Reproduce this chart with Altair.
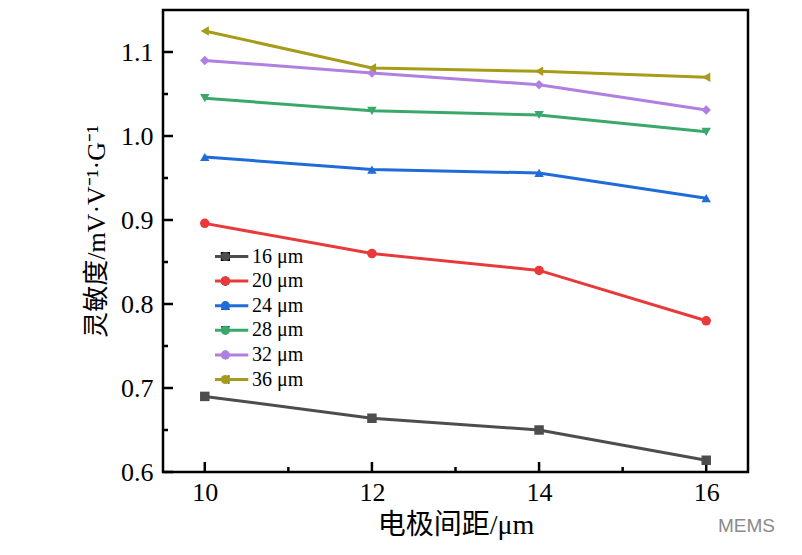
import altair as alt
import pandas as pd

spacing = [10, 12, 14, 16]
series_names = ["16 μm", "20 μm", "24 μm", "28 μm", "32 μm", "36 μm"]
s16 = [0.690, 0.664, 0.650, 0.614]
s20 = [0.896, 0.860, 0.840, 0.780]
s24 = [0.975, 0.960, 0.956, 0.926]
s28 = [1.045, 1.030, 1.025, 1.005]
s32 = [1.090, 1.075, 1.061, 1.031]
s36 = [1.125, 1.081, 1.077, 1.070]
colors = ["#4d4d4d", "#e8393b", "#1f6cd8", "#3aa86a", "#b07fe0", "#a69c1a"]
shapes = ["square", "circle", "triangle-up", "triangle-down", "diamond", "triangle-left"]

y_major = [0.6, 0.7, 0.8, 0.9, 1.0, 1.1]
y_minor = [0.65, 0.75, 0.85, 0.95, 1.05]
x_major = [10, 12, 14, 16]
x_minor = [11, 13, 15]

rows = []
for name, vals in zip(series_names, [s16, s20, s24, s28, s32, s36]):
    for x, v in zip(spacing, vals):
        rows.append({"spacing": x, "sens": v, "series": name, "series_pt": name})
df = pd.DataFrame(rows)

W, H = 585, 462
FONT = "Liberation Serif, Noto Sans CJK SC"

xscale = alt.Scale(domain=[9.5, 16.5], nice=False, zero=False)
yscale = alt.Scale(domain=[0.6, 1.15], nice=False, zero=False)

x_axis = alt.Axis(values=x_major, title="电极间距/μm", labelPadding=7, titlePadding=6,
                  titleFontSize=28)
y_axis = alt.Axis(values=y_major, format=".1f", title="灵敏度/mV·V⁻¹·G⁻¹",
                  labelPadding=10, titlePadding=11, titleY=221)

def xe(field="spacing"):
    return alt.X(f"{field}:Q", scale=xscale, axis=x_axis)

def ye(field="sens"):
    return alt.Y(f"{field}:Q", scale=yscale, axis=y_axis)

color_scale = alt.Scale(domain=series_names, range=colors)
shape_scale = alt.Scale(domain=series_names, range=shapes)

common_leg = dict(orient="none", padding=0, labelFont=FONT, labelFontSize=20,
                  labelColor="black", rowPadding=3.6, clipHeight=19, title=None, legendY=237)

line_leg = alt.Legend(symbolType="M-4.66,0H4.66", symbolSize=100, symbolStrokeWidth=3,
                      legendX=52, labelOffset=17, **common_leg)
pt_leg = alt.Legend(symbolSize=85, symbolStrokeWidth=0, legendX=52.4,
                    labelExpr="''", **common_leg)

lines = alt.Chart(df).mark_line(strokeWidth=3).encode(
    x=xe(), y=ye(),
    color=alt.Color("series:N", scale=color_scale, legend=line_leg),
)
points = alt.Chart(df).mark_point(filled=True, size=90, opacity=1).encode(
    x=xe(), y=ye(),
    color=alt.Color("series_pt:N", scale=color_scale, legend=pt_leg),
    shape=alt.Shape("series_pt:N", scale=shape_scale, legend=pt_leg),
)

ymaj = alt.Chart(pd.DataFrame({"sens": y_major})).mark_rule(color="black", strokeWidth=2.5).encode(
    y=ye(), x=alt.value(0), x2=alt.value(10))
ymin = alt.Chart(pd.DataFrame({"sens": y_minor})).mark_rule(color="black", strokeWidth=2.5).encode(
    y=ye(), x=alt.value(0), x2=alt.value(5))
xmaj = alt.Chart(pd.DataFrame({"spacing": x_major})).mark_rule(color="black", strokeWidth=2.5).encode(
    x=xe(), y=alt.value(H), y2=alt.value(H - 10))
xmin = alt.Chart(pd.DataFrame({"spacing": x_minor})).mark_rule(color="black", strokeWidth=2.5).encode(
    x=xe(), y=alt.value(H), y2=alt.value(H - 5))

chart = alt.layer(ymaj, ymin, xmaj, xmin, lines, points).resolve_scale(
    color="independent"
).properties(
    width=W, height=H,
    autosize=alt.AutoSizeParams(type="none"),
    padding={"left": 155, "top": 2, "right": 46, "bottom": 75},
    title=alt.TitleParams("MEMS", orient="bottom", anchor="end", frame="group",
                          color="#8a8a8a", font="Liberation Sans", fontSize=19,
                          fontWeight="normal", dx=27, offset=-22),
).configure_view(
    stroke="black", strokeWidth=2.5
).configure_axis(
    grid=False, domain=False, ticks=False,
    labelFont=FONT, labelFontSize=26, labelColor="black",
    titleFont=FONT, titleFontSize=26, titleFontWeight="normal", titleColor="black",
)

chart.save("out.html", embed_options={"renderer": "svg", "actions": False})
